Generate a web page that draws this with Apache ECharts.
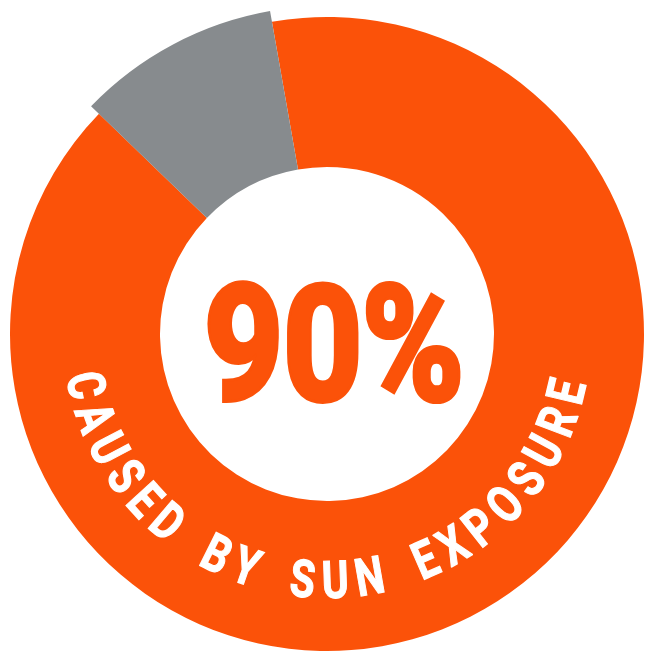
<!DOCTYPE html>
<html>
<head>
<meta charset="utf-8">
<script src="https://cdn.jsdelivr.net/npm/echarts@6/dist/echarts.min.js"></script>
<style>
  html, body { margin: 0; padding: 0; background: #ffffff; }
  #chart { width: 646px; height: 655px; }
</style>
</head>
<body>
<div id="chart"></div>
<script>
// ---- data ----
const categories = ['Caused by sun exposure', 'Other causes'];
const values = [90, 10];
const centerLabel = values[0] + '%';
const ringText = 'CAUSED BY SUN EXPOSURE';

// ---- styling ----
const ORANGE = '#FB5209';
const GRAY = '#878B8E';
const CX = 327, CY = 334;
const R_IN = 167, R_OUT = 317, R_OUT_GRAY = 328;
const START = 100;

const chart = echarts.init(document.getElementById('chart'), null, { renderer: 'canvas' });

const transparent = { color: 'rgba(0,0,0,0)' };
const pieBase = {
  type: 'pie',
  center: [CX, CY],
  startAngle: START,
  clockwise: true,
  label: { show: false },
  labelLine: { show: false },
  emphasis: { disabled: true },
  silent: true,
  animation: false,
  avoidLabelOverlap: false
};

// ---- curved label along the ring ----
const RING_FONT_SIZE = 52;
const RING_FONT = 'bold ' + RING_FONT_SIZE + 'px Roboto';
const RING_SCALE_X = 0.78;
const SPACE_FACTOR = 3.6;   // a space counts as this many letter gaps extra
const R_TEXT = 251;
const FIRST_ANGLE = 192;    // degrees, math convention (centre of first letter)
const LAST_ANGLE = 346.5;   // centre of last letter

const mctx = document.createElement('canvas').getContext('2d');
mctx.font = RING_FONT;
const chars = ringText.split('');
const glyphW = chars.map(ch => ch === ' ' ? 0 : mctx.measureText(ch).width * RING_SCALE_X);
const stepUnits = i => (chars[i] === ' ' || chars[i - 1] === ' ') ? (SPACE_FACTOR / 2 + 0.5) : 1;
let base = 0, gapUnits = 0;
for (let i = 1; i < chars.length; i++) {
  base += glyphW[i - 1] / 2 + glyphW[i] / 2;
  gapUnits += stepUnits(i);
}
const targetLen = (LAST_ANGLE - FIRST_ANGLE) * Math.PI / 180 * R_TEXT;
const gap = (targetLen - base) / gapUnits;

const letterGraphics = [];
let pos = 0;
chars.forEach((ch, i) => {
  if (i > 0) pos += glyphW[i - 1] / 2 + glyphW[i] / 2 + stepUnits(i) * gap;
  if (ch === ' ') return;
  const mid = FIRST_ANGLE * Math.PI / 180 + pos / R_TEXT;
  letterGraphics.push({
    type: 'text',
    x: CX + R_TEXT * Math.cos(mid),
    y: CY - R_TEXT * Math.sin(mid),
    rotation: mid - 1.5 * Math.PI,
    scaleX: RING_SCALE_X,
    silent: true,
    z: 10,
    style: {
      text: ch,
      fill: '#ffffff',
      stroke: '#ffffff',
      lineWidth: 1.2,
      font: RING_FONT,
      align: 'center',
      verticalAlign: 'middle'
    }
  });
});

const option = {
  backgroundColor: '#ffffff',
  animation: false,
  series: [
    Object.assign({}, pieBase, {
      name: 'ring',
      radius: [R_IN, R_OUT],
      z: 1,
      data: [
        { name: categories[0], value: values[0], itemStyle: { color: ORANGE } },
        { name: categories[1], value: values[1], itemStyle: transparent }
      ]
    }),
    Object.assign({}, pieBase, {
      name: 'highlight',
      radius: [R_IN, R_OUT_GRAY],
      z: 2,
      data: [
        { name: categories[0], value: values[0], itemStyle: transparent },
        { name: categories[1], value: values[1], itemStyle: { color: GRAY } }
      ]
    })
  ],
  graphic: [
    {
      type: 'text',
      x: 334,
      y: 359,
      scaleX: 0.86,
      silent: true,
      z: 10,
      style: {
        text: centerLabel,
        fill: ORANGE,
        stroke: ORANGE,
        lineWidth: 6,
        lineJoin: 'round',
        font: 'bold 160px Roboto',
        align: 'center',
        verticalAlign: 'middle'
      }
    }
  ].concat(letterGraphics)
};

chart.setOption(option);
</script>
</body>
</html>
